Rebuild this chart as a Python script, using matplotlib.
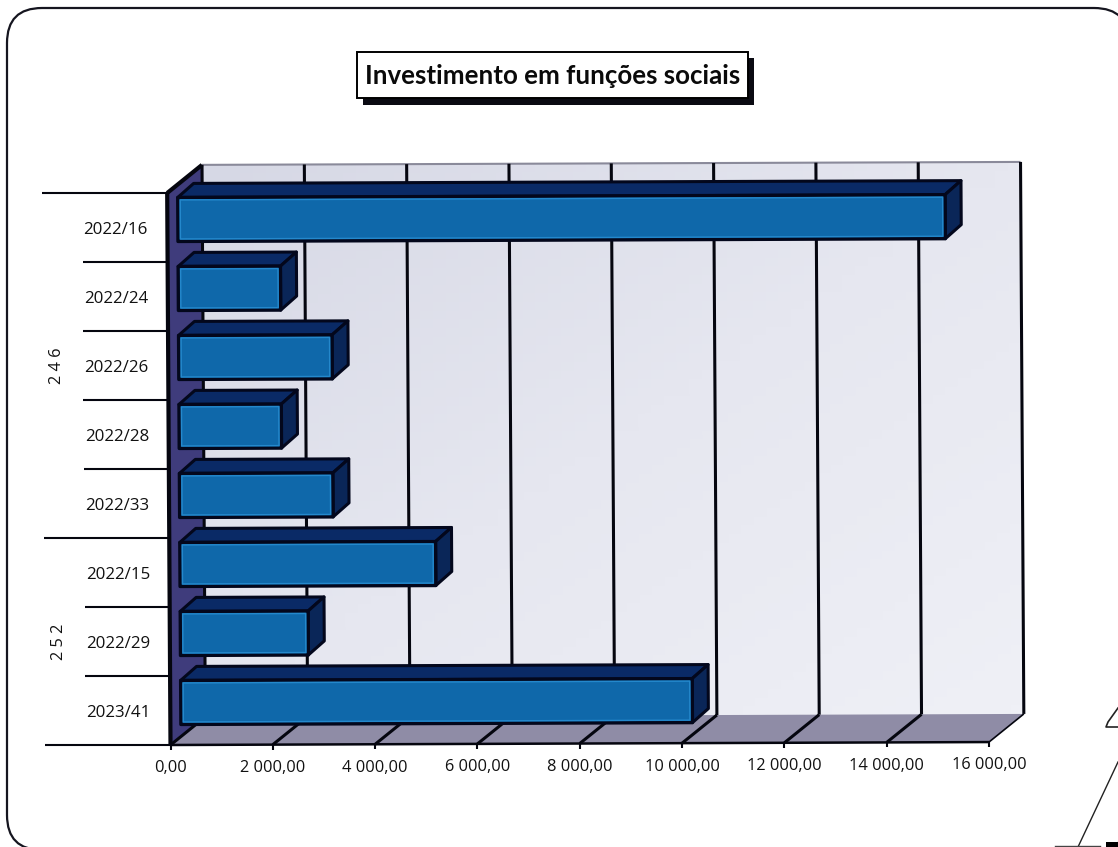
import matplotlib
matplotlib.use('Agg')
import matplotlib.pyplot as plt
import numpy as np
from matplotlib.colors import LinearSegmentedColormap
from matplotlib.patches import Polygon, Rectangle, FancyBboxPatch
from matplotlib.transforms import Affine2D

categories = ['2022/16', '2022/24', '2022/26', '2022/28', '2022/33', '2022/15', '2022/29', '2023/41']
values = [15000, 2000, 3000, 2000, 3000, 5000, 2500, 10000]
groups = ['2 4 6', '2 5 2']
group_spans = [(0, 5), (5, 8)]
xticks = [0, 2000, 4000, 6000, 8000, 10000, 12000, 14000, 16000]
xlabels = ['0,00', '2 000,00', '4 000,00', '6 000,00', '8 000,00', '10 000,00', '12 000,00', '14 000,00', '16 000,00']
title = 'Investimento em funções sociais'

W, H = 1118, 847
plt.rcParams['font.family'] = ['Open Sans', 'DejaVu Sans']
fig = plt.figure(figsize=(W / 100, H / 100), dpi=100, facecolor='white')

# page-level stuff in pixels, y going down like the scan
bg = fig.add_axes([0, 0, 1, 1])
bg.set_xlim(0, W)
bg.set_ylim(H, 0)
bg.axis('off')
bg.add_patch(FancyBboxPatch((42, 43), 1052, 772, boxstyle='round,pad=35,rounding_size=35',
                            fc='white', ec='#15151f', lw=1.6))
bg.plot([1118, 1108, 1106, 1118], [708, 722, 727, 727], color='#222', lw=1.2)
bg.plot([1118, 1078], [762, 847], color='#222', lw=1.0)
bg.plot([1055, 1100], [846, 846], color='#444', lw=1.0)
bg.add_patch(Rectangle((1106, 842), 12, 5, fc='black', ec='none'))
bg.add_patch(Rectangle((363, 58), 391, 47, fc='#0a0a12', ec='none'))
bg.add_patch(Rectangle((357, 52), 391, 46, fc='white', ec='black', lw=1.4))
bg.text(552.5, 76, title, ha='center', va='center', fontsize=18.6, fontweight='bold',
        family=['Lato', 'DejaVu Sans'], color='#0a0a0a')

ax = fig.add_axes([170.5 / W, (H - 745) / H, 818.5 / W, 552 / H], facecolor='none')
ax.set_xlim(0, 16000)
ax.set_ylim(7.5, -0.5)
ax.set_autoscale_on(False)
for s in ax.spines.values():
    s.set_visible(False)

# the page was scanned slightly crooked
x0, y0 = 170.5, H - 745
scan = Affine2D().translate(-x0, -y0)
scan = scan + Affine2D(np.array([[1, -0.006, 0], [0.0036, 1, 0], [0, 0, 1]])) + Affine2D().translate(x0, y0)
tr = ax.transData + scan

px = 16000 / 818.5
py = 8 / 552
dx, dy = 35 * px, 28 * py          # depth of the whole box
bx, by = 10.5 * px, 8 * py         # where bars start in depth
bdx, bdy = 16 * px, 14 * py        # depth of a bar
bar_h = 44 * py
top, bottom, xmax = -0.5, 7.5, 16000


def poly(pts, fc, ec='none', lw=0, z=1):
    ax.add_patch(Polygon(pts, closed=True, fc=fc, ec=ec, lw=lw, transform=tr, zorder=z,
                         clip_on=False, joinstyle='round'))


def line(xs, ys, color='#05060f', lw=1.6, z=2):
    ax.plot(xs, ys, color=color, lw=lw, transform=tr, zorder=z, clip_on=False, solid_capstyle='butt')


# back wall, a bit darker towards the top left
grad = np.linspace(0, 1, 64).reshape(1, -1) * 0.5 + np.linspace(0, 1, 64).reshape(-1, 1) * 0.5
wall = LinearSegmentedColormap.from_list('wall', ['#d6d8e5', '#e6e7f0', '#eff0f6'])
ax.imshow(grad, extent=(dx, xmax + dx, bottom - dy, top - dy), cmap=wall,
          aspect='auto', transform=tr, zorder=1, clip_on=False)
ax.set_xlim(0, 16000)
ax.set_ylim(7.5, -0.5)
# left wall and floor
poly([(0, top), (dx, top - dy), (dx, bottom - dy), (0, bottom)], '#3f3c7c', z=1.2)
poly([(0, bottom), (dx, bottom - dy), (xmax + dx, bottom - dy), (xmax, bottom)], '#8f8ca6', z=1.2)
line([dx, xmax + dx], [top - dy, top - dy], color='#8a8a9a', lw=1.5, z=1.3)
line([0, dx], [top, top - dy], lw=3, z=2)
for v in xticks:
    line([v + dx, v + dx], [bottom - dy, top - dy], lw=2.2, z=1.5)
    line([v, v + dx], [bottom, bottom - dy], lw=2.2 if v < xmax else 1.2, z=1.5)
line([0, 0], [top, bottom], lw=3, z=4)
line([0, xmax], [bottom, bottom], lw=1.8, z=4)

# bars, top one first so the lower ones sit over it
for i, v in enumerate(values):
    y1 = i - by - bar_h / 2
    y2 = i - by + bar_h / 2
    x1, x2 = bx, v + bx
    z = 3 + i * 0.01
    poly([(x1, y1), (x1 + bdx, y1 - bdy), (x2 + bdx, y1 - bdy), (x2, y1)], '#0a2a66', '#03071c', 2.2, z)
    poly([(x2, y1), (x2 + bdx, y1 - bdy), (x2 + bdx, y2 - bdy), (x2, y2)], '#0a2658', '#03071c', 2.2, z)
    poly([(x1, y1), (x2, y1), (x2, y2), (x1, y2)], '#0f68aa', '#03071c', 2.4, z)
    inset_x, inset_y = 2.5 * px, 2.5 * py
    poly([(x1 + inset_x, y1 + inset_y), (x2 - inset_x, y1 + inset_y), (x2 - inset_x, y2 - inset_y), (x1 + inset_x, y2 - inset_y)],
         'none', '#2488cc', 1.0, z)

# axis ticks and labels
ax.set_xticks(xticks, xlabels)
ax.set_yticks(range(len(categories)), categories)
ax.set_yticks(np.arange(-0.5, 8), minor=True)
ax.tick_params(axis='x', length=3.6, width=1.5, color='#05060f', labelsize=11.8, pad=7.5, labelcolor='#111111')
ax.tick_params(axis='y', which='major', length=0, labelsize=12.2, pad=14, labelcolor='#111111')
ax.tick_params(axis='y', which='minor', width=1.5, color='#05060f')
long_ticks = {0, 5, 8}
for k, t in enumerate(ax.yaxis.get_minor_ticks()):
    t.tick1line.set_markersize((125 if k in long_ticks else 85) * 0.72)
for t in ax.xaxis.get_major_ticks() + ax.yaxis.get_major_ticks() + ax.yaxis.get_minor_ticks():
    t.tick1line.set_transform(t.tick1line.get_transform() + scan)
    t.label1.set_transform(t.label1.get_transform() + scan)

# outer level of the category axis
group_x = -111 * px
for name, (a, b) in zip(groups, group_spans):
    ax.text(group_x, (a + b) / 2 - 0.5, name, rotation=90, ha='center', va='center', fontsize=11.8,
            color='#111111', transform=tr, clip_on=False)

fig.savefig('out.png', dpi=100)
